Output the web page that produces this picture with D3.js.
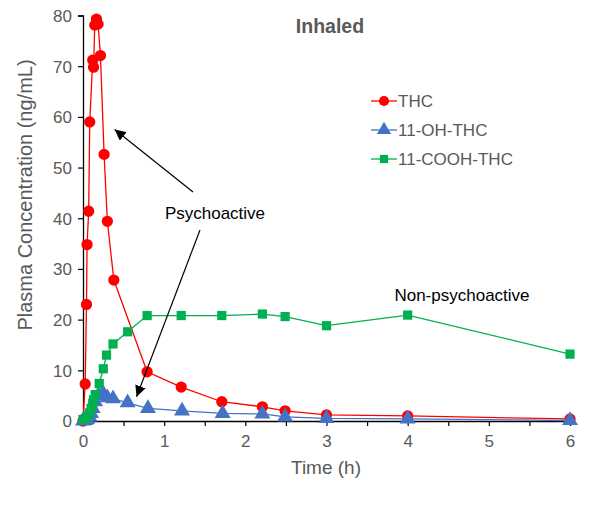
<!DOCTYPE html>
<html><head><meta charset="utf-8">
<script src="https://cdn.jsdelivr.net/npm/d3@7/dist/d3.min.js"></script>
<style>body{margin:0;background:#fff}svg{display:block;font-family:"Liberation Sans",Arial,sans-serif}</style>
</head><body><svg id="c" width="605" height="507"></svg>
<script>
const seriesNames = ["THC", "11-OH-THC", "11-COOH-THC"];
const thcTime = [0, 0.027, 0.043, 0.05, 0.07, 0.083, 0.12, 0.13, 0.145, 0.166, 0.186, 0.215, 0.26, 0.30, 0.38, 0.79, 1.21, 1.71, 2.21, 2.49, 3, 4, 6];
const thcConc = [0, 7.3, 23, 34.8, 41.4, 59, 71.2, 69.8, 78.1, 79.3, 78.3, 72.1, 52.6, 39.4, 27.8, 9.7, 6.7, 3.8, 2.8, 2.0, 1.2, 1.0, 0.4];
const ohTime = [0, 0.03, 0.05, 0.08, 0.1, 0.12, 0.15, 0.2, 0.25, 0.3, 0.37, 0.55, 0.8, 1.22, 1.72, 2.21, 2.49, 3, 4, 6];
const ohConc = [0, 0.1, 0.3, 0.8, 1.5, 2.5, 3.8, 5.0, 5.4, 4.6, 4.4, 3.6, 2.5, 2.0, 1.5, 1.4, 0.8, 0.5, 0.4, 0.1];
const coohTime = [0, 0.03, 0.06, 0.08, 0.1, 0.12, 0.13, 0.15, 0.2, 0.25, 0.29, 0.37, 0.55, 0.79, 1.21, 1.71, 2.21, 2.49, 3, 4, 6];
const coohConc = [0.3, 0.5, 1.0, 1.6, 2.5, 3.5, 4.2, 5.2, 7.4, 10.3, 13.0, 15.2, 17.6, 20.8, 20.8, 20.8, 21.1, 20.6, 18.8, 20.9, 13.2];
const xTicks = [0, 1, 2, 3, 4, 5, 6];
const yTicks = [0, 10, 20, 30, 40, 50, 60, 70, 80];

const svg = d3.select("#c");
const x = d3.scaleLinear().domain([0, 6]).range([83, 570]);
const y = d3.scaleLinear().domain([0, 80]).range([421, 15.5]);
const gray = "#595959";
const colors = ["#ff0000", "#4472c4", "#00b050"];
const shapes = [d3.symbolCircle, d3.symbolTriangle, d3.symbolSquare];
const sizes = [100, 110, 85];

// axes
const xa = svg.append("g").attr("transform", "translate(0,421)")
  .call(d3.axisBottom(x).tickValues(d3.range(0, 6.01, 0.5)).tickSize(5).tickFormat(d => xTicks.includes(d) ? d : ""));
const ya = svg.append("g").attr("transform", "translate(83,0)")
  .call(d3.axisLeft(y).tickValues(yTicks).tickSize(5));
[xa, ya].forEach(a => {
  a.select(".domain").attr("stroke", "#000").attr("stroke-width", 1.3);
  a.selectAll(".tick line").attr("stroke", "#000").attr("stroke-width", 1.2);
  a.selectAll("text").attr("fill", gray).style("font-size", "17px").style("font-family", "Liberation Sans, Arial, sans-serif");
});
xa.selectAll("text").attr("dy", "1.05em");
ya.selectAll("text").attr("x", -11).attr("dy", "0.35em");

// series
const data = [
  d3.zip(thcTime, thcConc),
  d3.zip(ohTime, ohConc),
  d3.zip(coohTime, coohConc)
];
const line = d3.line().x(d => x(d[0])).y(d => y(d[1]));
data.forEach((s, i) => {
  svg.append("path").datum(s).attr("d", line).attr("fill", "none")
    .attr("stroke", colors[i]).attr("stroke-width", 1.3);
  svg.append("g").selectAll("path").data(s).join("path")
    .attr("d", d3.symbol().type(shapes[i]).size(sizes[i]))
    .attr("transform", d => `translate(${x(d[0])},${y(d[1])})`)
    .attr("fill", colors[i]);
});

// title
svg.append("text").attr("x", 330).attr("y", 33).attr("text-anchor", "middle")
  .attr("fill", gray).style("font-size", "19.5px").style("font-weight", "bold").text("Inhaled");

// legend
seriesNames.forEach((n, i) => {
  const ly = 101 + i * 29;
  svg.append("line").attr("x1", 371).attr("x2", 397).attr("y1", ly).attr("y2", ly)
    .attr("stroke", colors[i]).attr("stroke-width", 1.3);
  svg.append("path").attr("d", d3.symbol().type(shapes[i]).size(sizes[i] * 0.8)())
    .attr("transform", `translate(384,${ly})`).attr("fill", colors[i]);
  svg.append("text").attr("x", 398).attr("y", ly).attr("dy", "0.36em")
    .attr("fill", gray).style("font-size", "17px").text(n);
});

// annotations
svg.append("defs").append("marker").attr("id", "ah").attr("viewBox", "0 0 10 10")
  .attr("refX", 10).attr("refY", 5).attr("markerWidth", 11).attr("markerHeight", 11)
  .attr("markerUnits", "userSpaceOnUse").attr("orient", "auto")
  .append("path").attr("d", "M0,0 L10,5 L0,10 z").attr("fill", "#000");
svg.append("line").attr("x1", 193).attr("y1", 192).attr("x2", x(0.39)).attr("y2", y(57.5))
  .attr("stroke", "#000").attr("stroke-width", 1.2).attr("marker-end", "url(#ah)");
svg.append("line").attr("x1", 200).attr("y1", 230).attr("x2", x(0.66)).attr("y2", y(4.8))
  .attr("stroke", "#000").attr("stroke-width", 1.2).attr("marker-end", "url(#ah)");
svg.append("text").attr("x", 215).attr("y", 219).attr("text-anchor", "middle")
  .attr("fill", "#000").style("font-size", "17px").text("Psychoactive");
svg.append("text").attr("x", 462).attr("y", 301).attr("text-anchor", "middle")
  .attr("fill", "#000").style("font-size", "17px").text("Non-psychoactive");

// axis titles
svg.append("text").attr("x", 326).attr("y", 474).attr("text-anchor", "middle")
  .attr("fill", gray).style("font-size", "19px").text("Time (h)");
svg.append("text").attr("transform", "translate(32,195) rotate(-90)").attr("text-anchor", "middle")
  .attr("fill", gray).style("font-size", "20px").text("Plasma Concentration (ng/mL)");
</script></body></html>
